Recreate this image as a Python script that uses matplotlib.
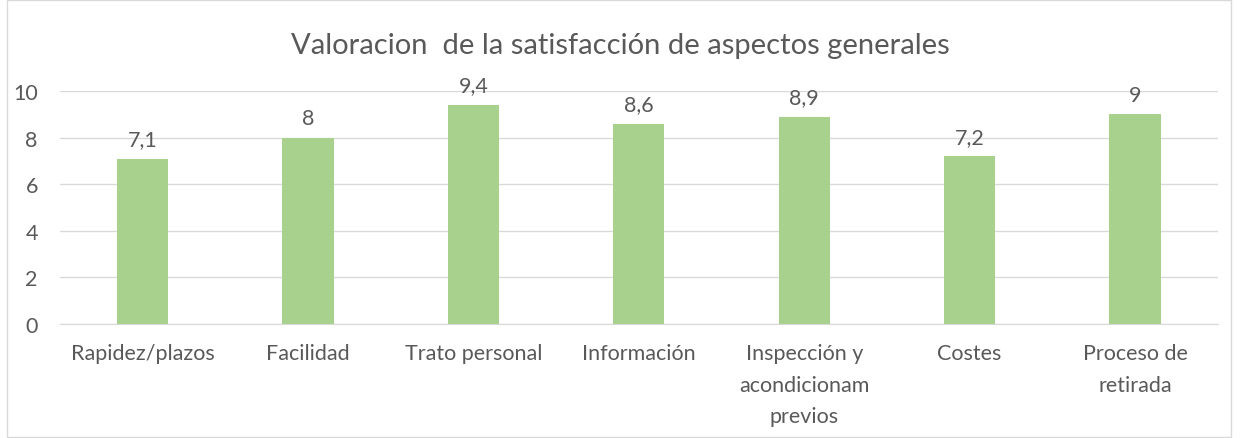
import matplotlib.pyplot as plt
from matplotlib.patches import Rectangle

# data
categories = ["Rapidez/plazos", "Facilidad", "Trato personal", "Información",
              "Inspección y\nacondicionam\nprevios", "Costes", "Proceso de\nretirada"]
values = [7.1, 8, 9.4, 8.6, 8.9, 7.2, 9]
labels = ["7,1", "8", "9,4", "8,6", "8,9", "7,2", "9"]
yticks = [0, 2, 4, 6, 8, 10]

plt.rcParams["font.family"] = ["Lato", "DejaVu Sans"]
text_color = "#595959"

fig = plt.figure(figsize=(12.4, 4.39), dpi=100)
ax = fig.add_axes([0.0484, 0.2597, 0.9336, 0.5303])

x = list(range(len(categories)))
bars = ax.bar(x, values, width=0.31, color="#A9D18E", zorder=3)

for b, lab in zip(bars, labels):
    ax.annotate(lab, (b.get_x() + b.get_width() / 2, b.get_height()),
                xytext=(0, 7), textcoords="offset points",
                ha="center", va="bottom", fontsize=15.5, color=text_color)

ax.set_xlim(-0.5, len(categories) - 0.5)
ax.set_ylim(0, 10)
ax.set_yticks(yticks)
ax.set_yticklabels([str(v) for v in yticks])
ax.set_xticks(x)
ax.set_xticklabels(categories, fontsize=15.5, color=text_color, linespacing=1.7)
ax.tick_params(axis="y", labelsize=15.5, labelcolor=text_color, length=0, pad=16)
ax.tick_params(axis="x", length=0, pad=14)

ax.grid(axis="y", color="#D9D9D9", linewidth=1, zorder=0)
for s in ["top", "right", "left"]:
    ax.spines[s].set_visible(False)
ax.spines["bottom"].set_color("#D9D9D9")

fig.text(0.5, 0.895, "Valoracion  de la satisfacción de aspectos generales",
         ha="center", va="center", fontsize=21, color=text_color)

# outer chart border
fig.patches.append(Rectangle((0.006, 0.002), 0.987, 0.996, transform=fig.transFigure,
                             fill=False, edgecolor="#D9D9D9", linewidth=1))

fig.savefig("out.png", dpi=100, facecolor="white")
